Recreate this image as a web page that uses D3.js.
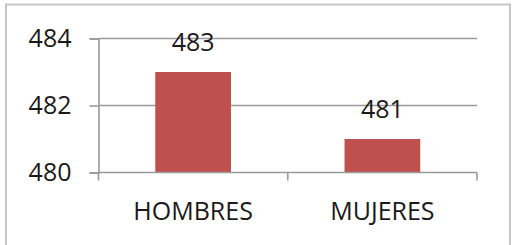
<!DOCTYPE html>
<html><head><meta charset="utf-8">
<script src="https://cdn.jsdelivr.net/npm/d3@7"></script>
<style>body{margin:0;background:#fff;}svg{display:block;}</style>
</head><body>
<svg id="c" width="523" height="245"></svg>
<script>
const categories = ["HOMBRES", "MUJERES"];
const values = [483, 481];
const yTicks = [480, 482, 484];

(function () {
const svg = d3.select("#c");
const font = "'Open Sans', sans-serif";

// outer frame
svg.append("rect").attr("x", 6).attr("y", 4.5).attr("width", 504).attr("height", 260)
  .attr("fill", "none").attr("stroke", "#c6c6c6").attr("stroke-width", 2);

const pLeft = 98.5, pRight = 477, pTop = 38.5, pBottom = 172.5;
const x = d3.scaleBand().domain(categories).range([pLeft, pRight]).paddingInner(0.6).paddingOuter(0.3);
const y = d3.scaleLinear().domain([480, 484]).range([pBottom, pTop]);

// gridlines
svg.append("g").selectAll("line").data(yTicks.slice(1)).join("line")
  .attr("x1", pLeft).attr("x2", pRight).attr("y1", d => y(d)).attr("y2", d => y(d))
  .attr("stroke", "#9a9a9a").attr("stroke-width", 1.6);

// bars
svg.append("g").selectAll("rect").data(values).join("rect")
  .attr("x", (d, i) => x(categories[i])).attr("width", x.bandwidth())
  .attr("y", d => y(d)).attr("height", d => y(480) - y(d))
  .attr("fill", "#C0504D");

// y axis
const yAxis = d3.axisLeft(y).tickValues(yTicks).tickSize(9).tickPadding(20).tickFormat(d3.format("d"));
const gy = svg.append("g").attr("transform", `translate(${pLeft},0)`).call(yAxis);
gy.select(".domain").attr("stroke", "#9a9a9a").attr("stroke-width", 1.6);
gy.selectAll(".tick line").attr("stroke", "#9a9a9a").attr("stroke-width", 1.6);
gy.selectAll(".tick text").attr("font-family", font).attr("font-size", 25).attr("fill", "#1a1a1a").attr("x", -27);

// x axis
const step = (pRight - pLeft) / categories.length;
const xAxis = d3.axisBottom(x).tickSize(0).tickPadding(30);
const gx = svg.append("g").attr("transform", `translate(0,${pBottom})`).call(xAxis);
gx.select(".domain").remove();
gx.selectAll(".tick text").attr("font-family", font).attr("font-size", 25).attr("fill", "#1a1a1a");
gx.append("line").attr("x1", pLeft).attr("x2", pRight).attr("stroke", "#9a9a9a").attr("stroke-width", 1.6);
gx.selectAll(".sep").data(d3.range(categories.length + 1)).join("line").attr("class", "sep")
  .attr("x1", i => pLeft + i * step).attr("x2", i => pLeft + i * step)
  .attr("y1", 0).attr("y2", 8).attr("stroke", "#9a9a9a").attr("stroke-width", 1.6);

// data labels
svg.append("g").selectAll("text").data(values).join("text")
  .attr("x", (d, i) => x(categories[i]) + x.bandwidth() / 2)
  .attr("y", d => y(d) - 21)
  .attr("text-anchor", "middle").attr("font-family", font).attr("font-size", 25).attr("fill", "#1a1a1a")
  .text(d => d);
})();
</script>
</body></html>
